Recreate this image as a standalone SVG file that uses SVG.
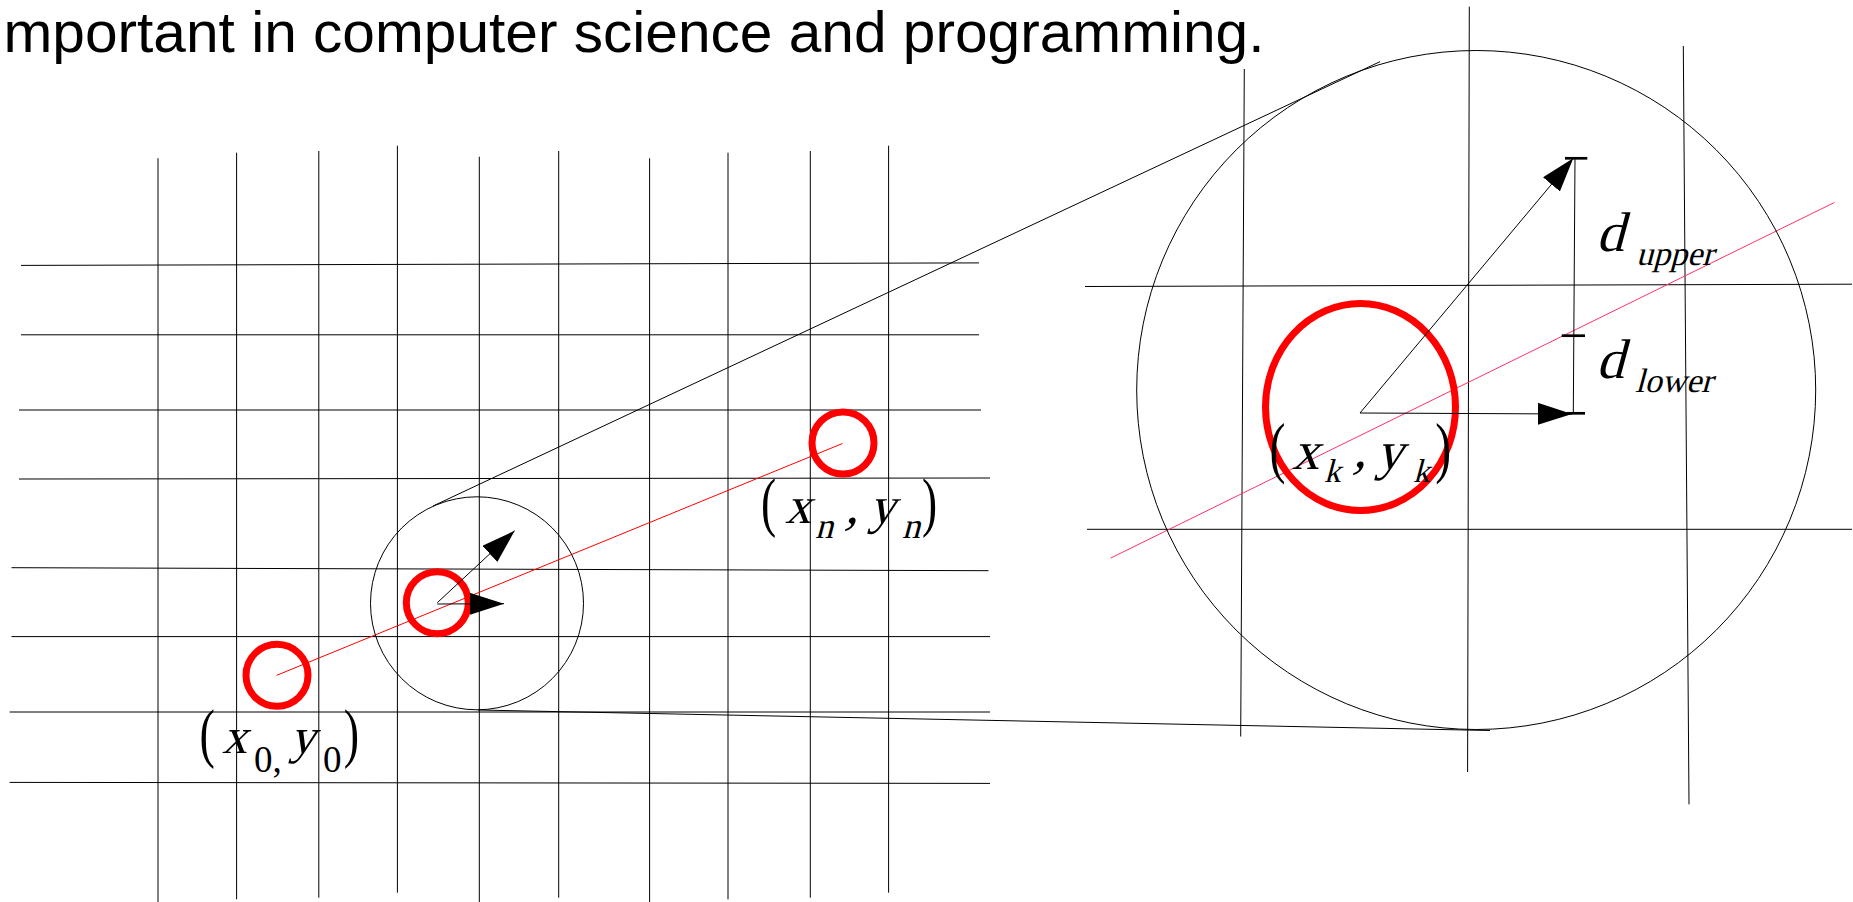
<svg xmlns="http://www.w3.org/2000/svg" width="1853" height="902" viewBox="0 0 1853 902">
<style>
.g{stroke:#000;stroke-width:1;fill:none}
.rc{fill:none;stroke:#ff0000;stroke-width:7}
.rl{stroke:#ff0000;stroke-width:1;fill:none}
.rl2{stroke:#ff3366;stroke-width:1;fill:none}
.bc{fill:none;stroke:#000;stroke-width:1}
.tick{stroke:#000;stroke-width:2.7}
.arr{stroke:#000;stroke-width:1;fill:none;marker-end:url(#ah)}
.m{font-family:"Liberation Serif","Times New Roman",serif;font-style:normal;fill:#000}
.u{font-family:"Liberation Serif","Times New Roman",serif;font-style:normal;fill:#000}
.title{font-family:"Liberation Sans",Arial,sans-serif;fill:#000}
</style>
<defs>
<marker id="ah" viewBox="0 0 34 22" markerWidth="34" markerHeight="22" refX="34" refY="11" orient="auto" markerUnits="userSpaceOnUse"><path d="M0,0L34,11L0,22z" fill="#000"/></marker>
</defs>
<rect width="1853" height="902" fill="#fff"/>
<g id="title"><text class="title" x="3.5" y="52" font-size="58" textLength="1261" lengthAdjust="spacingAndGlyphs">mportant in computer science and programming.</text></g>

<g id="grid-small" class="g">
<line x1="158" y1="158.3" x2="158" y2="902"/>
<line x1="236.6" y1="152.7" x2="236.6" y2="899.3"/>
<line x1="318.8" y1="151" x2="318.8" y2="897.7"/>
<line x1="397.4" y1="145.7" x2="397.4" y2="892.7"/>
<line x1="479.3" y1="156.7" x2="479.3" y2="902"/>
<line x1="558.7" y1="151" x2="558.7" y2="897.7"/>
<line x1="649.6" y1="158.3" x2="649.6" y2="902"/>
<line x1="728" y1="152.7" x2="728" y2="899.3"/>
<line x1="810.3" y1="151" x2="810.3" y2="897.7"/>
<line x1="888.6" y1="145.7" x2="888.6" y2="892.7"/>
<line x1="21" y1="265.4" x2="979" y2="262.9"/>
<line x1="21" y1="334.8" x2="979" y2="334.8"/>
<line x1="19" y1="410" x2="981" y2="410"/>
<line x1="19" y1="479" x2="990" y2="478"/>
<line x1="11.5" y1="567.7" x2="988.5" y2="570.7"/>
<line x1="11.5" y1="636.6" x2="990" y2="636.6"/>
<line x1="9.6" y1="712" x2="990" y2="712"/>
<line x1="9.6" y1="782.4" x2="990" y2="783.4"/>
</g>

<g id="grid-big" class="g">
<line x1="1244.3" y1="69" x2="1240.7" y2="736.5"/>
<line x1="1469.3" y1="6.7" x2="1467.6" y2="772"/>
<line x1="1683.3" y1="46" x2="1689" y2="804.4"/>
<line x1="1085" y1="286.5" x2="1852" y2="284.2"/>
<line x1="1087" y1="529.3" x2="1852" y2="529.3"/>
</g>

<g id="line-small"><line class="rl" x1="276.5" y1="675.4" x2="842.5" y2="443.5"/></g>
<g id="line-big"><line class="rl2" x1="1110.6" y1="558.1" x2="1834.4" y2="202.5"/></g>

<g id="zoom-circle-small"><circle class="bc" cx="477" cy="603.3" r="106.5"/></g>
<g id="zoom-circle-big"><circle class="bc" cx="1476.2" cy="390" r="339.5"/></g>

<g id="node-p0"><circle class="rc" cx="277" cy="675.3" r="31"/></g>
<g id="node-pk"><circle class="rc" cx="437.3" cy="602.7" r="31"/></g>
<g id="node-pn"><circle class="rc" cx="843" cy="443" r="31"/></g>
<g id="node-pk-big"><ellipse class="rc" cx="1360.5" cy="407" rx="95" ry="103.5"/></g>

<g id="connectors">
<line class="g" x1="433" y1="506" x2="1380" y2="61.7"/>
<line class="g" x1="478" y1="710" x2="1490" y2="730.5"/>
<line class="arr" x1="437.3" y1="602.7" x2="514.7" y2="530.7"/>
<line class="arr" x1="437.3" y1="604" x2="504" y2="603.7"/>
<line class="arr" x1="1360" y1="413" x2="1573.3" y2="158.3"/>
<line class="arr" x1="1360" y1="413" x2="1572" y2="414"/>
<line class="g" x1="1575" y1="158.3" x2="1573.3" y2="413.3"/>
<line class="tick" x1="1565" y1="158.3" x2="1587.3" y2="158.3"/>
<line class="tick" x1="1561.7" y1="335.7" x2="1585" y2="335.7"/>
<line class="tick" x1="1566.7" y1="413.3" x2="1585" y2="413.3"/>
</g>

<g id="label-p0">
<text class="u" font-size="66" transform="translate(199.5,755) scale(0.7,1)">(</text>
<text class="m" font-size="50" transform="translate(222,753.3) skewX(-15)">x</text>
<text class="u" font-size="37" x="254" y="771.7">0,</text>
<text class="m" font-size="50" transform="translate(290,753.3) skewX(-15)">y</text>
<text class="u" font-size="37" x="323" y="771.7">0</text>
<text class="u" font-size="66" transform="translate(343.7,755) scale(0.7,1)">)</text>
</g>
<g id="label-pn">
<text class="u" font-size="65" transform="translate(761.1,523.5) scale(0.7,1)">(</text>
<text class="m" font-size="52" transform="translate(785,523.3) skewX(-15)">x</text>
<text class="m" font-size="36" transform="translate(815,538.3) skewX(-15)">n</text>
<text class="m" font-size="54" transform="translate(845,523.3) skewX(-15)">,</text>
<text class="m" font-size="52" transform="translate(869,523.3) skewX(-15)">y</text>
<text class="m" font-size="36" transform="translate(902,538.3) skewX(-15)">n</text>
<text class="u" font-size="65" transform="translate(922,523.5) scale(0.7,1)">)</text>
</g>
<g id="label-pk">
<text class="u" font-size="68.5" transform="translate(1269.4,469.6) scale(0.7,1)">(</text>
<text class="m" font-size="54" transform="translate(1292,469.3) skewX(-15)">x</text>
<text class="m" font-size="33" transform="translate(1324,481.7) skewX(-15)">k</text>
<text class="m" font-size="54" transform="translate(1353,467) skewX(-15)">,</text>
<text class="m" font-size="54" transform="translate(1376,469.3) skewX(-15)">y</text>
<text class="m" font-size="33" transform="translate(1413,481.7) skewX(-15)">k</text>
<text class="u" font-size="68.5" transform="translate(1435.3,469.6) scale(0.7,1)">)</text>
</g>
<g id="label-dupper">
<text class="m" font-size="56" transform="translate(1596,250.7) skewX(-15)">d</text>
<text class="m" font-size="34" transform="translate(1636,265) skewX(-15)">upper</text>
</g>
<g id="label-dlower">
<text class="m" font-size="56" transform="translate(1596,378.3) skewX(-15)">d</text>
<text class="m" font-size="34" transform="translate(1635,391.7) skewX(-15)">lower</text>
</g>
</svg>
